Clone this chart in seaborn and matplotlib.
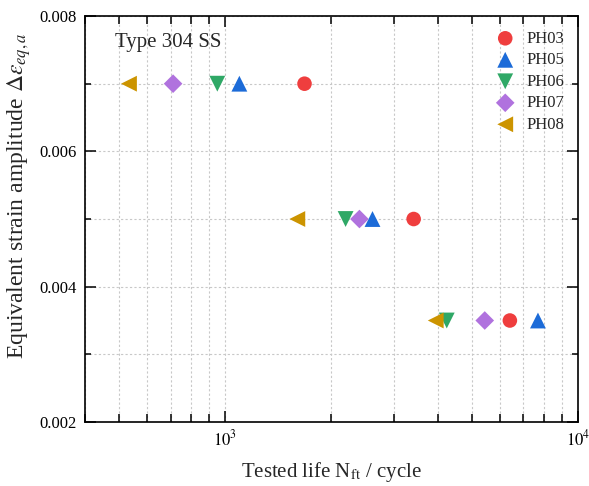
import pandas as pd
import seaborn as sns
import matplotlib.pyplot as plt
from matplotlib.ticker import LogLocator, MultipleLocator, FixedLocator, NullFormatter

# Values
specimens = ['PH03', 'PH05', 'PH06', 'PH07', 'PH08']
strain_amp = [0.007, 0.005, 0.0035]
life_ph03 = [1677, 3420, 6410]
life_ph05 = [1096, 2614, 7700]
life_ph06 = [949, 2193, 4245]
life_ph07 = [711, 2400, 5440]
life_ph08 = [533, 1600, 3950]

colors = ['#EF3E3E', '#1C6BD8', '#2FA866', '#B072DE', '#CC9400']
markers = ['o', '^', 'v', 'D', '<']
sizes = [110, 130, 130, 90, 130]

lives = [life_ph03, life_ph05, life_ph06, life_ph07, life_ph08]
rows = []
for name, life in zip(specimens, lives):
    for n, e in zip(life, strain_amp):
        rows.append({'Specimen': name, 'Life': n, 'Strain': e})
df = pd.DataFrame(rows)

sns.set_style('ticks')
plt.rcParams['font.family'] = ['Liberation Serif', 'DejaVu Serif']
plt.rcParams['mathtext.fontset'] = 'stix'

fig = plt.figure(figsize=(5.89, 4.86), dpi=100)
ax = fig.add_axes([0.1443, 0.1317, 0.8370, 0.8353])

for name, c, m, s in zip(specimens, colors, markers, sizes):
    sns.scatterplot(data=df[df['Specimen'] == name], x='Life', y='Strain',
                    color=c, marker=m, s=s, edgecolor='none', label=name,
                    ax=ax, zorder=3)

ax.set_xscale('log')
ax.set_xlim(400, 10000)
ax.set_ylim(0.002, 0.008)

ax.xaxis.set_major_locator(FixedLocator([1000, 10000]))
ax.xaxis.set_minor_locator(LogLocator(base=10, subs=range(2, 10)))
ax.xaxis.set_minor_formatter(NullFormatter())
ax.set_xticklabels(['$10^3$', '$10^4$'])
ax.yaxis.set_major_locator(MultipleLocator(0.002))
ax.yaxis.set_minor_locator(MultipleLocator(0.001))
ax.yaxis.set_major_formatter(plt.FuncFormatter(lambda v, p: f'{v:.3f}'))

ax.grid(True, which='both', color='#c8c8c8', linestyle=(0, (2, 2)), linewidth=0.8)
ax.set_axisbelow(True)

for sp in ax.spines.values():
    sp.set_visible(True)
    sp.set_linewidth(1.2)
    sp.set_color('black')
ax.tick_params(which='both', direction='in', top=True, right=True, width=1.1,
               labelsize=12, colors='black')
ax.tick_params(axis='y', which='major', length=8, pad=6)
ax.tick_params(axis='y', which='minor', length=4)
ax.tick_params(axis='x', which='major', length=8, pad=5)
ax.tick_params(axis='x', which='minor', length=6)

ax.set_xlabel(r'Tested life N$_{\mathrm{ft}}$ / cycle', fontsize=15, labelpad=8)
ax.set_ylabel(r'Equivalent strain amplitude $\Delta\varepsilon_{eq,a}$', fontsize=17)
ax.yaxis.set_label_coords(-0.105, 0.557)
ax.text(0.061, 0.936, 'Type 304 SS', transform=ax.transAxes, fontsize=15,
        ha='left', va='center')

ax.legend(loc='upper right', frameon=False, fontsize=12, handletextpad=0.55,
          labelspacing=0.33, borderaxespad=0.6, handlelength=1.5,
          bbox_to_anchor=(1.007, 1.005))

plt.savefig('out.png', dpi=100)
